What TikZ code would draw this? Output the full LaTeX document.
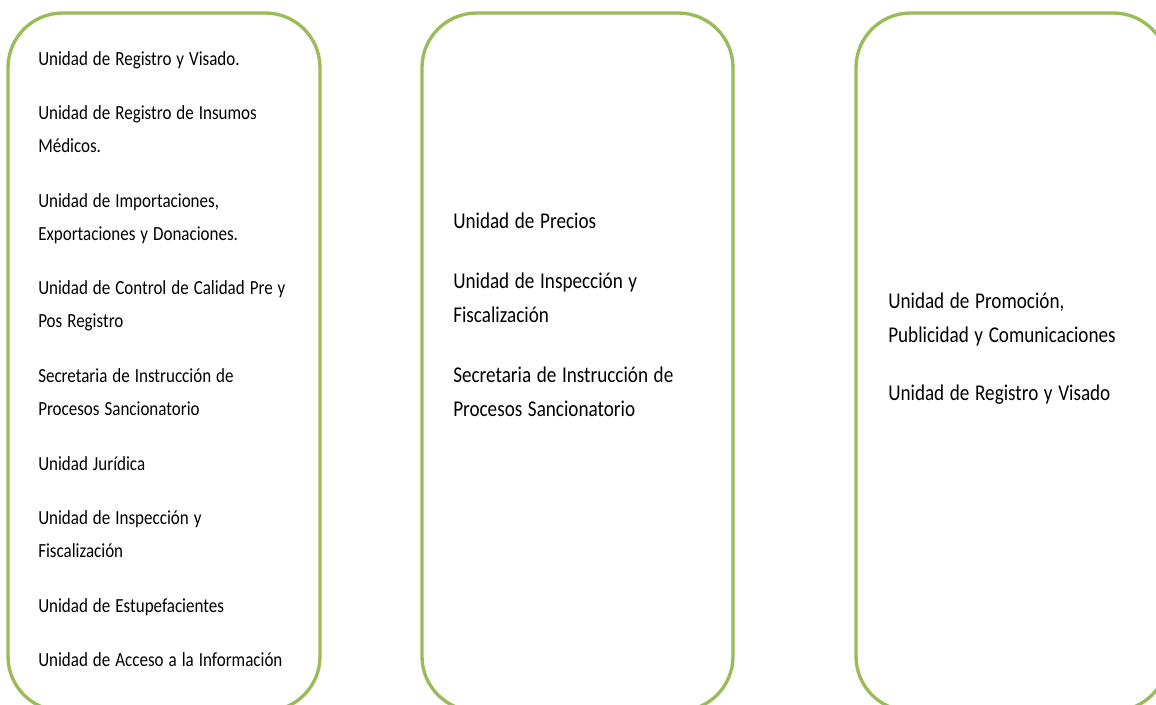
\documentclass[tikz,border=0pt]{standalone}
\usepackage{fontspec}
\setmainfont{Carlito}[FakeStretch=0.85]
\usepackage{tikz}
\definecolor{oliva}{HTML}{9BBB59}
\tikzset{
  unidad/.style={draw=oliva, line width=2.5pt, rounded corners=41pt},
  textoizq/.style={anchor=base west, inner sep=0pt, text width=215pt, align=left,
    font=\fontsize{15}{24.75}\selectfont,
    execute at begin node={\spaceskip=0.25em\relax}},
  textocen/.style={anchor=base west, inner sep=0pt, text width=215pt, align=left,
    font=\fontsize{16.9}{25.5}\selectfont,
    execute at begin node={\spaceskip=0.25em\relax}}
}

\begin{document}
\begin{tikzpicture}[x=0.75pt, y=-0.75pt]
    % Page frame
    \clip (0,0) rectangle (1156,704);

    % Draw the three boxes
    \draw[unidad] (8,13) rectangle (320,711);
    \draw[unidad] (422,13) rectangle (733,711);
    \draw[unidad] (856,13) rectangle (1168,711);

    % Left box units
    \node[textoizq] (registro) at (38,65) {Unidad de Registro y Visado.};
    \node[textoizq] (insumos) at (38,119.6) {Unidad de Registro de Insumos\\ Médicos.};
    \node[textoizq] (importaciones) at (38,207.2) {Unidad de Importaciones,\\ Exportaciones y Donaciones.};
    \node[textoizq] (calidad) at (38,294.8) {Unidad de Control de Calidad Pre y\\ Pos Registro};
    \node[textoizq] (secretaria) at (38,382.4) {Secretaria de Instrucción de\\ Procesos Sancionatorio};
    \node[textoizq] (juridica) at (38,470) {Unidad Jurídica};
    \node[textoizq] (inspeccion) at (38,524.6) {Unidad de Inspección y\\ Fiscalización};
    \node[textoizq] (estupefacientes) at (38,612.2) {Unidad de Estupefacientes};
    \node[textoizq] (acceso) at (38,666.8) {Unidad de Acceso a la Información};

    % Middle box units
    \node[textocen] (precios) at (453,228) {Unidad de Precios};
    \node[textocen] (inspeccionM) at (453,288) {Unidad de Inspección y\\ Fiscalización};
    \node[textocen] (secretariaM) at (453,382) {Secretaria de Instrucción de\\ Procesos Sancionatorio};

    % Right box units
    \node[textocen] (promocion) at (888,308) {Unidad de Promoción,\\ Publicidad y Comunicaciones};
    \node[textocen] (visado) at (888,400) {Unidad de Registro y Visado};
\end{tikzpicture}
\end{document}
